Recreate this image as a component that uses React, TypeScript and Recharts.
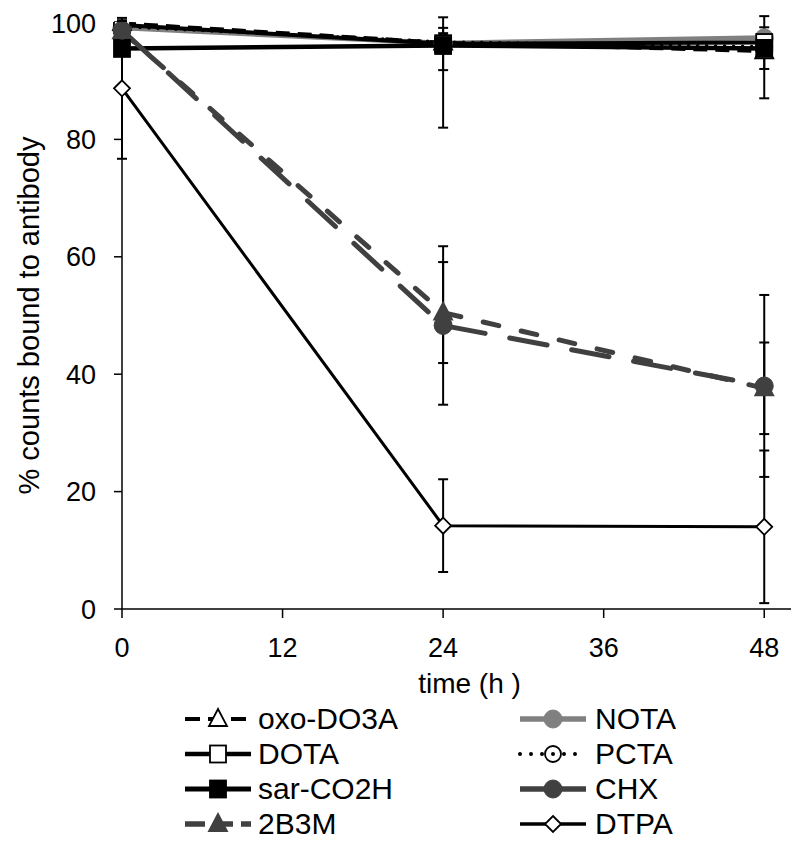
import React from 'react';
import { LineChart, Line, XAxis, YAxis, ErrorBar } from 'recharts';

// time points (h)
const times = [0, 24, 48];

// % counts bound to antibody
const oxoDO3A = [99.8, 96.5, 95.0];
const oxoDO3AErr = [0.5, 1.0, 1.0];
const dota = [99.5, 96.3, 96.5];
const dotaErr = [0.5, 4.5, 4.5];
const sarCO2H = [95.5, 96.0, 95.5];
const sarCO2HErr = [[0.5, 0.5], [14, 3], [8.5, 3.6]];
const b2b3m = [98.4, 50.5, 37.6];
const b2b3mErr = [1.0, 8.6, 7.8];
const nota = [99.0, 96.4, 97.3];
const notaErr = [0.5, 1.7, 1.0];
const pcta = [99.2, 96.6, 95.8];
const pctaErr = [0.5, 1.0, 1.0];
const chx = [98.6, 48.3, 38.0];
const chxErr = [1.0, 13.5, 15.5];
const dtpa = [88.7, 14.2, 14.0];
const dtpaErr = [12, 7.9, 13];

const xTicks = [0, 12, 24, 36, 48];
const yTicks = [0, 20, 40, 60, 80, 100];

const FONT = '"Liberation Sans", Arial, sans-serif';
const BLACK = '#000000';
const DARK = '#404040';
const GRAY = '#808080';

type Shape = 'triangle' | 'square' | 'circle' | 'ringdot' | 'diamond';

const series = [
  { key: 'oxo', name: 'oxo-DO3A', values: oxoDO3A, errors: oxoDO3AErr, color: BLACK, width: 3.5, dash: '14 8', cap: 'butt', shape: 'triangle' as Shape, fill: '#fff' },
  { key: 'dota', name: 'DOTA', values: dota, errors: dotaErr, color: BLACK, width: 4, dash: undefined, cap: 'butt', shape: 'square' as Shape, fill: '#fff' },
  { key: 'sar', name: 'sar-CO2H', values: sarCO2H, errors: sarCO2HErr, color: BLACK, width: 4.5, dash: undefined, cap: 'butt', shape: 'square' as Shape, fill: BLACK },
  { key: 'b2b3m', name: '2B3M', values: b2b3m, errors: b2b3mErr, color: DARK, width: 5, dash: '16 23', cap: 'round', shape: 'triangle' as Shape, fill: DARK },
  { key: 'nota', name: 'NOTA', values: nota, errors: notaErr, color: GRAY, width: 5, dash: undefined, cap: 'butt', shape: 'circle' as Shape, fill: GRAY },
  { key: 'pcta', name: 'PCTA', values: pcta, errors: pctaErr, color: BLACK, width: 3.5, dash: '0 9', cap: 'round', shape: 'ringdot' as Shape, fill: '#fff' },
  { key: 'chx', name: 'CHX', values: chx, errors: chxErr, color: DARK, width: 5, dash: '38 25', cap: 'round', shape: 'circle' as Shape, fill: DARK },
  { key: 'dtpa', name: 'DTPA', values: dtpa, errors: dtpaErr, color: BLACK, width: 3, dash: undefined, cap: 'butt', shape: 'diamond' as Shape, fill: '#fff' },
];

// paint order in the plot (black lines over the grey one in the cluster near 96 %)
const drawOrder = ['nota', 'oxo', 'pcta', 'dota', 'b2b3m', 'sar', 'chx', 'dtpa'];

const data = times.map((t, i) => {
  const row: any = { time: t };
  series.forEach((s) => {
    row[s.key] = s.values[i];
    row[s.key + 'Err'] = s.errors[i];
  });
  return row;
});

function drawMarker(shape: Shape, cx: number, cy: number, fill: string, stroke: string, key?: string) {
  switch (shape) {
    case 'triangle':
      return <polygon key={key} points={`${cx},${cy - 10} ${cx - 9},${cy + 7} ${cx + 9},${cy + 7}`} fill={fill} stroke={stroke} strokeWidth={1.8} />;
    case 'square':
      return <rect key={key} x={cx - 8} y={cy - 8.5} width={16} height={17} fill={fill} stroke={stroke} strokeWidth={1.8} />;
    case 'circle':
      return <circle key={key} cx={cx} cy={cy} r={9} fill={fill} stroke={stroke} strokeWidth={1} />;
    case 'ringdot':
      return (
        <g key={key}>
          <circle cx={cx} cy={cy} r={8} fill="#fff" stroke={stroke} strokeWidth={1.8} />
          <circle cx={cx} cy={cy} r={2} fill={stroke} />
        </g>
      );
    case 'diamond':
    default:
      return <polygon key={key} points={`${cx},${cy - 8} ${cx + 8},${cy} ${cx},${cy + 8} ${cx - 8},${cy}`} fill={fill} stroke={stroke} strokeWidth={1.8} />;
  }
}

const makeDot = (s: typeof series[number]) => (props: any) => {
  const { cx, cy, index } = props;
  if (cx == null || cy == null) return <g key={`${s.key}-${index}`} />;
  return drawMarker(s.shape, cx, cy, s.fill, s.color, `${s.key}-${index}`);
};

const YLabel = (props: any) => {
  const { viewBox } = props;
  const cx = viewBox.x + 21;
  const cy = viewBox.y + viewBox.height / 2;
  return (
    <text x={cx} y={cy} transform={`rotate(-90, ${cx}, ${cy})`} textAnchor="middle" dominantBaseline="central" fontSize={29} fontFamily={FONT} fill="#000">
      % counts bound to antibody
    </text>
  );
};

const XLabel = (props: any) => {
  const { viewBox } = props;
  const cx = viewBox.x + viewBox.width / 2 + 13;
  return (
    <text x={cx} y={viewBox.y + 74} textAnchor="middle" dominantBaseline="central" fontSize={28} fontFamily={FONT} fill="#000">
      time (h )
    </text>
  );
};

const LegendItem = ({ s, textGap }: { s: typeof series[number]; textGap: number }) => (
  <div style={{ display: 'flex', alignItems: 'center', height: 35 }}>
    <svg width={70} height={34}>
      <line x1={2} y1={17} x2={68} y2={17} stroke={s.color} strokeWidth={s.width + 0.5} strokeDasharray={s.key === 'pcta' ? '0 11' : s.key === 'oxo' ? '15 8' : s.key === 'b2b3m' ? '20 8' : undefined} strokeLinecap={s.key === 'pcta' ? 'round' : 'butt'} />
      {drawMarker(s.shape, 35, 17, s.fill, s.color)}
    </svg>
    <span style={{ marginLeft: textGap, fontSize: 30, fontFamily: FONT, color: '#000' }}>{s.name}</span>
  </div>
);

export default function App() {
  const ordered = drawOrder.map((k) => series.find((s) => s.key === k)!);
  return (
    <div style={{ position: 'relative', width: 784, height: 849 }}>
      <LineChart width={784} height={700} data={data} margin={{ top: 14, right: 1, bottom: 0, left: 0 }}>
        <XAxis
          dataKey="time"
          type="number"
          domain={[0, 50]}
          ticks={xTicks}
          tickSize={9}
          tickMargin={20}
          height={99}
          axisLine={{ stroke: '#000', strokeWidth: 1.5 }}
          tickLine={{ stroke: '#000', strokeWidth: 1.5 }}
          tick={{ fill: '#000', fontSize: 27, fontFamily: FONT }}
          label={(p: any) => <XLabel {...p} />}
        />
        <YAxis
          type="number"
          domain={[0, 100]}
          ticks={yTicks}
          width={114}
          tickSize={8}
          tickMargin={18}
          allowDataOverflow
          axisLine={{ stroke: '#000', strokeWidth: 1.5 }}
          tickLine={{ stroke: '#000', strokeWidth: 1.5 }}
          tick={{ fill: '#000', fontSize: 27, fontFamily: FONT }}
          label={(p: any) => <YLabel {...p} />}
        />
        {ordered.map((s) => (
          <Line
            key={s.key}
            dataKey={s.key}
            name={s.name}
            type="linear"
            stroke={s.color}
            strokeWidth={s.width}
            strokeDasharray={s.dash}
            strokeLinecap={s.cap as any}
            dot={makeDot(s)}
            activeDot={false}
            isAnimationActive={false}
          >
            <ErrorBar dataKey={s.key + 'Err'} direction="y" width={5} stroke="#000" strokeWidth={2} isAnimationActive={false} />
          </Line>
        ))}
      </LineChart>
      <div style={{ position: 'absolute', top: 693, left: 175 }}>
        {series.slice(0, 4).map((s) => (
          <LegendItem key={s.key} s={s} textGap={5} />
        ))}
      </div>
      <div style={{ position: 'absolute', top: 693, left: 510 }}>
        {series.slice(4).map((s) => (
          <LegendItem key={s.key} s={s} textGap={7} />
        ))}
      </div>
    </div>
  );
}
